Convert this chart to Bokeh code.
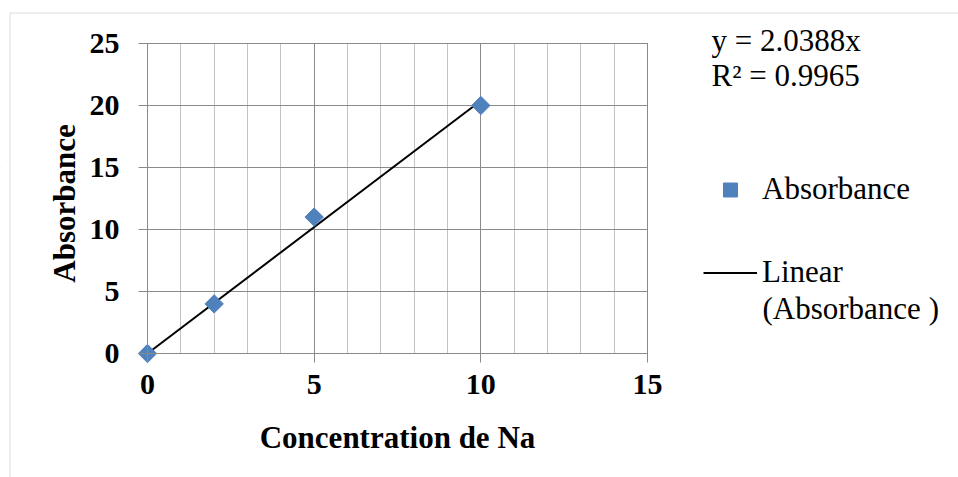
import numpy as np
from bokeh.plotting import figure
from bokeh.models import (Range1d, SingleIntervalTicker, Legend, LegendItem, Label,
                          BoxAnnotation)
from bokeh.embed import file_html
from bokeh.resources import INLINE

# ---- data ----
concentration = [0, 2, 5, 10]
absorbance = [0, 4, 11, 20]
slope = 2.0388
r_squared = 0.9965
trend_x = [0, 10]
trend_y = [slope * v for v in trend_x]
x_bounds = (0, 15)
y_bounds = (0, 25)
x_title = "Concentration de Na"
y_title = "Absorbance"

FONT = "Liberation Serif"
GRID = "#8a8a8a"
MINOR = "#c3c3c3"
BLUE = "#4F81BD"

# ---- layout (pixels) ----
W, H = 958, 477
X0PX, X15PX = 147, 647       # canvas x of x=0 and x=15
Y0PX, Y25PX = 353, 43        # canvas y of y=0 and y=25
kx = (X15PX - X0PX) / (x_bounds[1] - x_bounds[0])
ky = (Y0PX - Y25PX) / (y_bounds[1] - y_bounds[0])
x_start, x_end = -X0PX / kx, (W - X0PX) / kx
y_start, y_end = -(H - Y0PX) / ky, Y0PX / ky

p = figure(width=W, height=H, output_backend="svg", toolbar_location=None, title=None,
           x_range=Range1d(x_start, x_end), y_range=Range1d(y_start, y_end),
           min_border_left=0, min_border_right=0, min_border_top=0,
           min_border_bottom=0)
p.outline_line_color = None
p.background_fill_color = "white"
p.border_fill_color = "white"

# axes (drawn at x=0 / y=0)
p.xaxis.ticker = SingleIntervalTicker(interval=5, num_minor_ticks=5)
p.yaxis.ticker = SingleIntervalTicker(interval=5, num_minor_ticks=0)
p.xaxis.bounds = x_bounds
p.yaxis.bounds = y_bounds
for ax in (p.xaxis, p.yaxis):
    ax.fixed_location = 0
    ax.axis_line_color = GRID
    ax.major_tick_line_color = GRID
    ax.major_tick_out = 9
    ax.major_tick_in = 0
    ax.minor_tick_line_color = None
    ax.major_label_text_font = FONT
    ax.major_label_text_font_style = "bold"
    ax.major_label_text_font_size = "30px"
    ax.major_label_text_color = "black"
p.xaxis.major_label_standoff = 12
p.yaxis.major_label_standoff = 19

# grids
p.xgrid.grid_line_color = GRID
p.xgrid.minor_grid_line_color = MINOR
p.ygrid.grid_line_color = GRID

# keep grid lines inside the plot area
ex, ey = 0.5 / kx, 0.5 / ky
far = 1000
for kw in (dict(left=-far, right=x_bounds[0] - ex, bottom=-far, top=far),
           dict(left=x_bounds[1] + ex, right=far, bottom=-far, top=far),
           dict(left=-far, right=far, bottom=-far, top=y_bounds[0] - ey),
           dict(left=-far, right=far, bottom=y_bounds[1] + ey, top=far)):
    p.add_layout(BoxAnnotation(fill_color="white", fill_alpha=1, line_color=None,
                               level="underlay", **kw))

# trendline and points
tl = p.line(trend_x, trend_y, line_color="black", line_width=2)
sc = p.scatter(concentration, absorbance, marker="square", angle=np.pi / 4, size=13,
               fill_color=BLUE, line_color=BLUE)

# legend
leg = Legend(items=[LegendItem(label="Absorbance", renderers=[sc]),
                    LegendItem(label="Linear", renderers=[tl])],
             location=(703, H - 290), glyph_width=54, glyph_height=35,
             label_height=35, label_standoff=5, spacing=47,
             padding=0, margin=0, border_line_color=None, background_fill_alpha=0,
             label_text_font=FONT, label_text_font_size="31px", label_text_color="black")
p.add_layout(leg, "center")

# texts: (text, x px, y px of centre, align, angle, style)
texts = [("(Absorbance )", 762, 308, "left", 0, "normal"),
         (f"y = {slope}x", 711, 40, "left", 0, "normal"),
         (f"R² = {r_squared}", 711, 74.5, "left", 0, "normal"),
         (x_title, 397, 436.5, "center", 0, "bold"),
         (y_title, 64, 203, "center", np.pi / 2, "bold")]
for txt, sx, sy, align, ang, style in texts:
    p.add_layout(Label(x=sx, y=H - sy, x_units="screen", y_units="screen", text=txt,
                       text_font=FONT, text_font_size="31px", text_font_style=style,
                       text_color="black", text_align=align, text_baseline="middle",
                       angle=ang))

# blank strip above the outer border, then the outer chart-area border
p.add_layout(BoxAnnotation(left=-50, right=W + 50, top=H + 50, bottom=H - 12,
                           left_units="screen", right_units="screen",
                           top_units="screen", bottom_units="screen",
                           fill_color="white", fill_alpha=1, line_color=None,
                           level="overlay"))
p.add_layout(BoxAnnotation(left=9.5, right=W + 50, top=H - 12.5, bottom=-50,
                           left_units="screen", right_units="screen",
                           top_units="screen", bottom_units="screen",
                           fill_alpha=0, line_color=GRID, line_width=1,
                           level="overlay"))

open("out.html", "w").write(file_html(p, INLINE))
